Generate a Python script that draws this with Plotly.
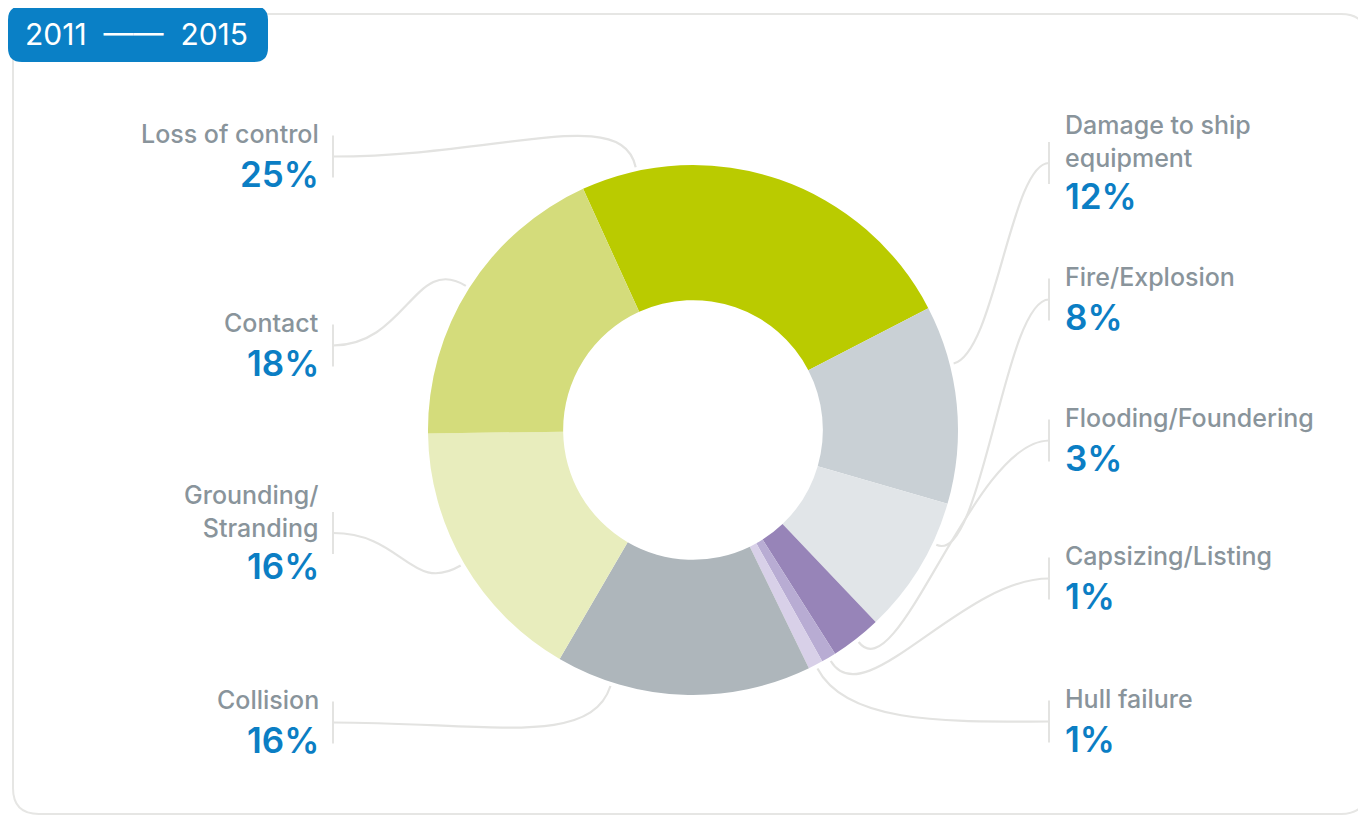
"""Donut chart: accident events 2011-2015"""

import math
import plotly.graph_objects as go

W, H = 1366, 816
PAGE_OFFSET = 8  # default body margin of the html page

# data, clockwise from the top
CATEGORIES = [
    "Loss of control",
    "Damage to ship<br>equipment",
    "Fire/Explosion",
    "Flooding/Foundering",
    "Capsizing/Listing",
    "Hull failure",
    "Collision",
    "Grounding/<br>Stranding",
    "Contact",
]
VALUES = [24.2, 12.1, 8.4, 3.1, 0.9, 0.9, 15.6, 16.4, 18.4]
PCT_LABELS = ["25%", "12%", "8%", "3%", "1%", "1%", "16%", "16%", "18%"]
COLORS = [
    "#BACB00",
    "#C9D0D5",
    "#E1E5E8",
    "#9784B8",
    "#B8ACD3",
    "#D8D0E8",
    "#AEB6BB",
    "#E8EDBD",
    "#D4DC7B",
]

# callout layout (pixel positions on the page)
SIDE = ["left", "right", "right", "right", "right", "right", "left", "left", "left"]
NAME_Y = [135, 126, 278, 419, 557, 700, 701, 496, 324]
ANCHOR_FRAC = [0.14, 0.3, 0.3, 0.5, 0.5, 0.5, 0.78, 0.5, 0.5]

CX, CY, R = 693, 430, 265
ROTATION = -24.5
GRAY = "#89949B"
BLUE = "#0B7EC4"
LINE = "#E3E3E1"
FONT = "Inter"
NAME_SIZE = 25
PCT_SIZE = 35


def px(x):
    return (x - PAGE_OFFSET) / W


def py(y):
    return 1 - (y - PAGE_OFFSET) / H


def rounded_rect(x0, y0, x1, y1, r):
    """SVG path (paper coords) for a rounded rectangle given in pixels"""
    pts = [
        ("M", [(x0 + r, y0)]),
        ("L", [(x1 - r, y0)]),
        ("Q", [(x1, y0), (x1, y0 + r)]),
        ("L", [(x1, y1 - r)]),
        ("Q", [(x1, y1), (x1 - r, y1)]),
        ("L", [(x0 + r, y1)]),
        ("Q", [(x0, y1), (x0, y1 - r)]),
        ("L", [(x0, y0 + r)]),
        ("Q", [(x0, y0), (x0 + r, y0)]),
    ]
    out = []
    for cmd, coords in pts:
        out.append(cmd + " " + " ".join(f"{px(a):.5f},{py(b):.5f}" for a, b in coords))
    return " ".join(out) + " Z"


fig = go.Figure()

fig.add_trace(
    go.Pie(
        values=VALUES,
        labels=[c.replace("<br>", " ") for c in CATEGORIES],
        marker=dict(colors=COLORS, line=dict(width=0)),
        hole=0.49,
        sort=False,
        direction="clockwise",
        rotation=ROTATION,
        textinfo="none",
        hoverinfo="label+percent",
        showlegend=False,
        domain=dict(
            x=[px(CX - R), px(CX + R)],
            y=[py(CY + R), py(CY - R)],
        ),
    )
)

shapes = []
annotations = []

# card and header
shapes.append(
    dict(type="path", path=rounded_rect(13, 14, 1367, 814, 26), xref="paper", yref="paper",
         line=dict(color="#E6E6E4", width=2), fillcolor="rgba(0,0,0,0)", layer="below")
)
shapes.append(
    dict(type="path", path=rounded_rect(8, 6, 268, 62, 14), xref="paper", yref="paper",
         line=dict(width=0), fillcolor="#0A80C6", layer="above")
)
annotations.append(
    dict(text="2011  ——  2015", x=px(136), y=py(34), xref="paper", yref="paper",
         showarrow=False, font=dict(family=FONT, size=30, color="white"),
         xanchor="center", yanchor="middle")
)

total = sum(VALUES)
cum = 0.0
for name, val, pct, side, ny, frac in zip(CATEGORIES, VALUES, PCT_LABELS, SIDE, NAME_Y, ANCHOR_FRAC):
    start = ROTATION + cum / total * 360
    cum += val
    ang = math.radians(start + frac * val / total * 360)
    rx, ry = math.sin(ang), -math.cos(ang)
    ex, ey = CX + (R + 4) * rx, CY + (R + 4) * ry

    n_lines = name.count("<br>") + 1
    pct_y = ny + 31 * (n_lines - 1) + 39
    tick_y = (ny + pct_y) / 2 + 2
    if side == "left":
        bx, tx, anchor, lead = 333, 321, "right", 0.55
    else:
        bx, tx, anchor, lead = 1049, 1063, "left", 0.4

    annotations.append(
        dict(text=name, x=px(tx), y=py(ny - 18), xref="paper", yref="paper", showarrow=False,
             xanchor=anchor, yanchor="top", align=anchor,
             font=dict(family=FONT, size=NAME_SIZE, color=GRAY, weight=500))
    )
    annotations.append(
        dict(text=pct, x=px(tx), y=py(pct_y), xref="paper",
             yref="paper", showarrow=False, xanchor=anchor, yanchor="middle",
             font=dict(family=FONT, size=PCT_SIZE, color=BLUE, weight=600))
    )

    # bracket
    shapes.append(
        dict(type="line", xref="paper", yref="paper", x0=px(bx), x1=px(bx),
             y0=py(tick_y - 21), y1=py(tick_y + 21), line=dict(color=LINE, width=2))
    )
    # connector curve from the bracket to the slice
    dx = ex - bx
    d = min(65, 0.45 * abs(dx))
    p1 = (bx + lead * dx, tick_y)
    p2 = (ex + rx * d, ey + ry * d)
    path = (
        f"M {px(bx):.5f},{py(tick_y):.5f} "
        f"C {px(p1[0]):.5f},{py(p1[1]):.5f} {px(p2[0]):.5f},{py(p2[1]):.5f} "
        f"{px(ex):.5f},{py(ey):.5f}"
    )
    shapes.append(
        dict(type="path", path=path, xref="paper", yref="paper",
             line=dict(color=LINE, width=2.2), fillcolor="rgba(0,0,0,0)")
    )

fig.update_layout(
    width=W,
    height=H,
    margin=dict(t=0, l=0, r=0, b=0),
    paper_bgcolor="white",
    plot_bgcolor="white",
    shapes=shapes,
    annotations=annotations,
    font=dict(family=FONT),
)

fig.write_html("out.html")
